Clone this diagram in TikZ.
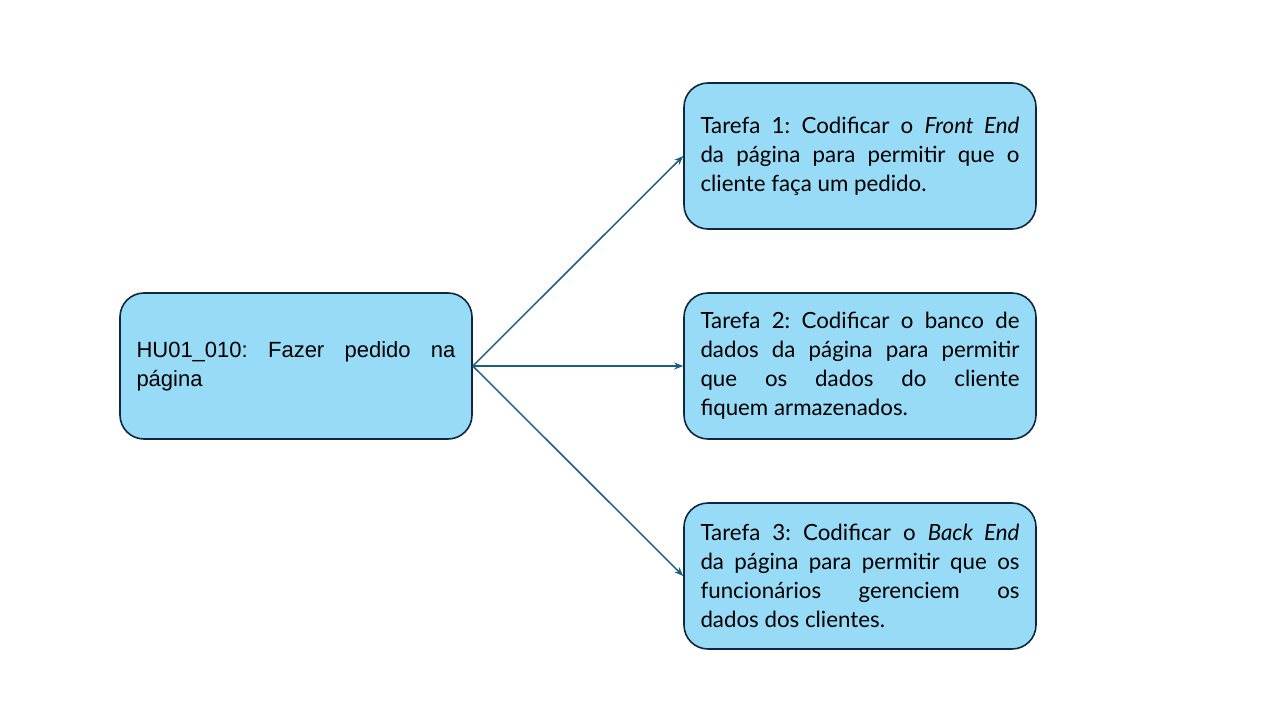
\documentclass[tikz,border=0pt]{standalone}
\usepackage{fontspec}
\setmainfont{Lato}
\newfontfamily\arialf{Liberation Sans}
\usetikzlibrary{arrows.meta}
\definecolor{boxfill}{HTML}{97DBF7}
\definecolor{boxline}{HTML}{0E2841}
\definecolor{arrowc}{HTML}{1A5E80}
\tikzset{
  taskbox/.style={draw=boxline, line width=1.6pt, fill=boxfill, rounded corners=24pt,
    minimum width=352pt, minimum height=146pt, text width=319pt, align=justify,
    inner sep=0pt, font=\frenchspacing\fontsize{22.3}{29}\selectfont},
  conn/.style={draw=arrowc, line width=1.5pt, -{Stealth[length=9pt,width=7pt]}}
}
\begin{document}
\begin{tikzpicture}[x=1pt,y=-1pt]
\useasboundingbox (0,0) rectangle (1280,720);
\node[taskbox, font=\frenchspacing\arialf\fontsize{22}{29}\selectfont] (hu) at (296,366) {HU01\_010: Fazer pedido na\linebreak página};
\node[taskbox] (t1) at (860,156) {Tarefa 1: Codificar o \textit{Front End}\linebreak da página para permitir que o\linebreak cliente faça um pedido.};
\node[taskbox] (t2) at (860,366) {Tarefa 2: Codificar o banco de\linebreak dados da página para permitir\linebreak que os dados do cliente\linebreak fiquem armazenados.};
\node[taskbox] (t3) at (860,576) {Tarefa 3: Codificar o \textit{Back End}\linebreak da página para permitir que os\linebreak funcionários gerenciem os\linebreak dados dos clientes.};
\draw[conn] (hu.east) -- (t1.west);
\draw[conn] (hu.east) -- (t2.west);
\draw[conn] (hu.east) -- (t3.west);
\end{tikzpicture}
\end{document}
